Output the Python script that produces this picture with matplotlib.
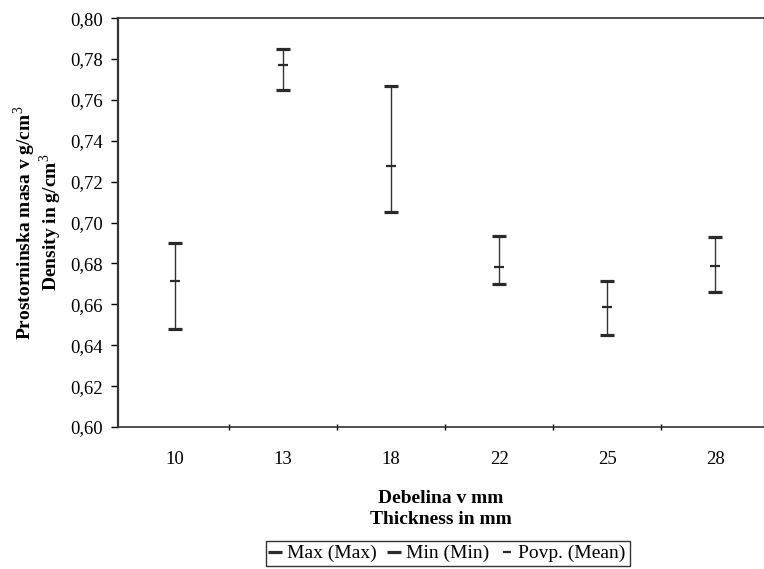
import numpy as np
import matplotlib.pyplot as plt
from matplotlib.ticker import FixedLocator, FuncFormatter

plt.rcParams['font.family'] = ['Liberation Serif', 'DejaVu Serif']
plt.rcParams['mathtext.fontset'] = 'custom'
plt.rcParams['mathtext.rm'] = 'Liberation Serif'
plt.rcParams['mathtext.bf'] = 'Liberation Serif:bold'

# thickness groups and density values
thickness = ['10', '13', '18', '22', '25', '28']
d_max = [0.690, 0.785, 0.767, 0.6935, 0.6715, 0.693]
d_min = [0.648, 0.765, 0.705, 0.670, 0.645, 0.666]
d_mean = [0.6715, 0.777, 0.7275, 0.6785, 0.6585, 0.679]

x = np.arange(len(thickness))

fig = plt.figure(figsize=(7.64, 5.69), dpi=100)
ax = fig.add_axes([0.1545, 0.2496, 0.845, 0.7184])

ax.vlines(x, d_min, d_max, color='#333333', lw=1.0)
ax.plot(x, d_max, ls='none', marker='_', ms=10.5, mew=2.3, color='#2a2a2a', label='Max (Max)')
ax.plot(x, d_min, ls='none', marker='_', ms=10.5, mew=2.3, color='#2a2a2a', label='Min (Min)')
ax.plot(x, d_mean, ls='none', marker='_', ms=7, mew=1.6, color='#2a2a2a', label='Povp. (Mean)')

ax.set_xlim(-0.53, 5.45)
ax.set_ylim(0.60, 0.80)
ax.set_yticks(np.arange(0.60, 0.801, 0.02))
ax.yaxis.set_major_formatter(FuncFormatter(lambda v, p: ('%.2f' % v).replace('.', ',')))
ax.set_xticks(x)
ax.set_xticklabels(thickness)
ax.xaxis.set_minor_locator(FixedLocator(x[:-1] + 0.5))
ax.tick_params(axis='x', which='major', length=0, pad=17, labelsize=13.5)
ax.tick_params(axis='x', which='minor', length=4, direction='inout', width=1)
ax.tick_params(axis='y', length=5, width=1, labelsize=13.5, pad=6)

for s in ax.spines.values():
    s.set_linewidth(1.2)
    s.set_color('#333333')
ax.spines['left'].set_linewidth(1.6)
ax.spines['right'].set_color('#cccccc')

ax.set_ylabel('Prostorninska masa v g/cm$^{3}$\nDensity in g/cm$^{3}$',
              fontsize=14, fontweight='bold', labelpad=4, linespacing=1.0)
ax.set_xlabel('Debelina v mm\nThickness in mm', fontsize=14, fontweight='bold',
              labelpad=16, linespacing=1.35)

leg = fig.legend(loc='center', bbox_to_anchor=(0.586, 0.027), ncol=3, fontsize=14,
                 frameon=True, fancybox=False, edgecolor='black', handlelength=0.6,
                 handletextpad=0.3, columnspacing=0.6, borderpad=0.2, markerscale=0.9)
leg.get_frame().set_linewidth(1.0)

fig.savefig('out.png', dpi=100)
